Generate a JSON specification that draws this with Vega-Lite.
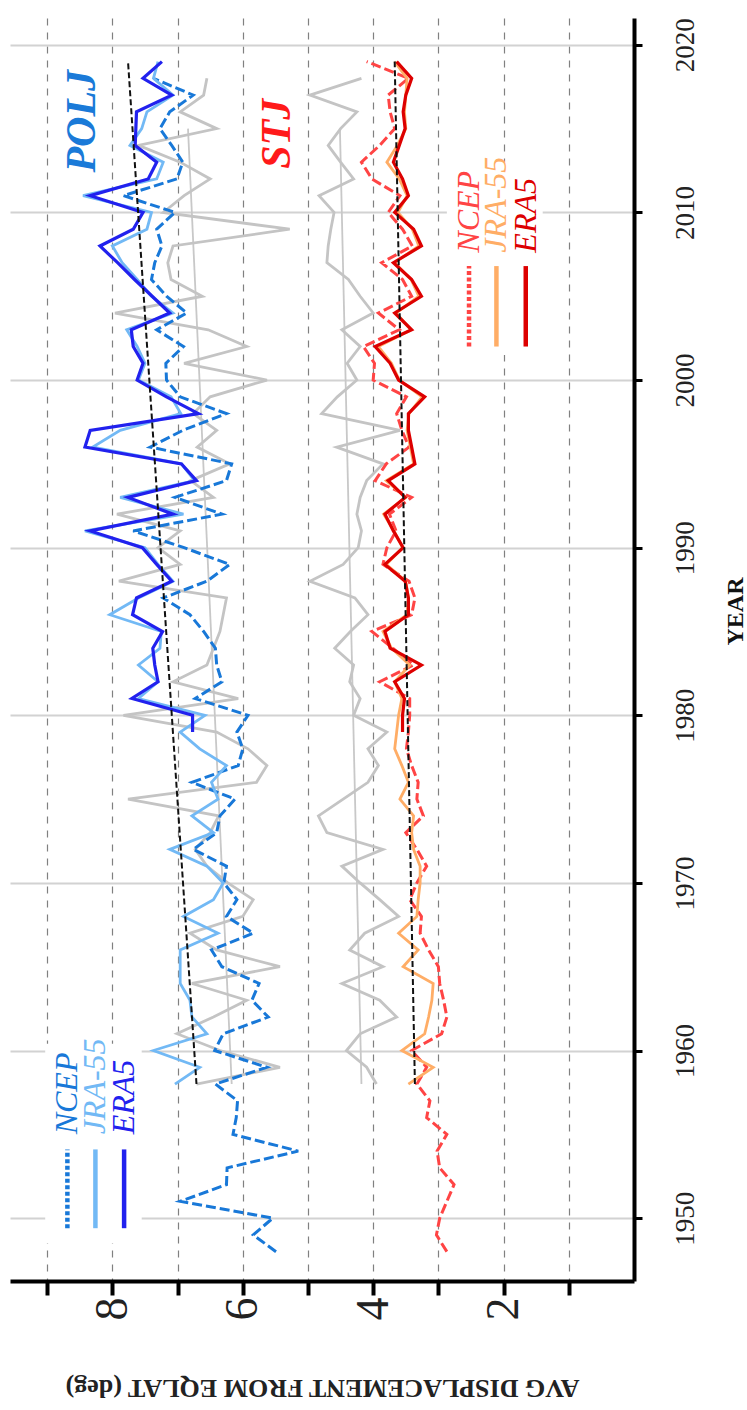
{
"$schema": "https://vega.github.io/schema/vega-lite/v6.json",
"width": 624,
"height": 1263,
"padding": {"left": 10, "top": 17, "right": 0, "bottom": 0},
"background": "white",
"config": {"view": {"stroke": null}, "font": "Liberation Serif"},
"datasets": {
"boxes": [
{"value": 9.03, "value2": 7.55, "year": 1948.5, "year2": 1960.4},
{"value": 2.87, "value2": 1.4, "year": 2001.5, "year2": 2013.0}
],
"legendlines": [
{"series": "POLJ NCEP", "value": 8.69, "year": 1949.4, "year2": 1954.1},
{"series": "POLJ JRA-55", "value": 8.26, "year": 1949.4, "year2": 1954.1},
{"series": "POLJ ERA5", "value": 7.82, "year": 1949.4, "year2": 1954.1},
{"series": "STJ NCEP", "value": 2.53, "year": 2002.0, "year2": 2006.8},
{"series": "STJ JRA-55", "value": 2.11, "year": 2002.0, "year2": 2006.8},
{"series": "STJ ERA5", "value": 1.66, "year": 2002.0, "year2": 2006.8}
],
"legendtext": [
{"series": "POLJ NCEP", "label": "NCEP", "value": 8.69, "year": 1955.0},
{"series": "POLJ JRA-55", "label": "JRA-55", "value": 8.26, "year": 1955.0},
{"series": "POLJ ERA5", "label": "ERA5", "value": 7.82, "year": 1955.0},
{"series": "STJ NCEP", "label": "NCEP", "value": 2.53, "year": 2007.6},
{"series": "STJ JRA-55", "label": "JRA-55", "value": 2.11, "year": 2007.6},
{"series": "STJ ERA5", "label": "ERA5", "value": 1.66, "year": 2007.6}
],
"labels": [
{"series": "POLJ label", "label": "POLJ", "value": 8.47, "year": 2015.44},
{"series": "STJ label", "label": "STJ", "value": 5.48, "year": 2014.69}
],
"lines": [
{"series":"POLJ NCEP","year":1948,"value":5.49},{"series":"POLJ NCEP","year":1949,"value":5.84},{"series":"POLJ NCEP","year":1950,"value":5.54},{"series":"POLJ NCEP","year":1951,"value":6.96},{"series":"POLJ NCEP","year":1952,"value":6.25},{"series":"POLJ NCEP","year":1953,"value":6.24},{"series":"POLJ NCEP","year":1954,"value":5.15},{"series":"POLJ NCEP","year":1955,"value":6.15},{"series":"POLJ NCEP","year":1956,"value":6.1},{"series":"POLJ NCEP","year":1957,"value":6.08},{"series":"POLJ NCEP","year":1958,"value":6.42},{"series":"POLJ NCEP","year":1959,"value":5.63},{"series":"POLJ NCEP","year":1960,"value":6.43},{"series":"POLJ NCEP","year":1961,"value":6.3},{"series":"POLJ NCEP","year":1962,"value":5.61},{"series":"POLJ NCEP","year":1963,"value":5.86},{"series":"POLJ NCEP","year":1964,"value":5.75},{"series":"POLJ NCEP","year":1965,"value":6.32},{"series":"POLJ NCEP","year":1966,"value":6.48},{"series":"POLJ NCEP","year":1967,"value":5.84},{"series":"POLJ NCEP","year":1968,"value":6.25},{"series":"POLJ NCEP","year":1969,"value":6.09},{"series":"POLJ NCEP","year":1970,"value":6.29},{"series":"POLJ NCEP","year":1971,"value":6.25},{"series":"POLJ NCEP","year":1972,"value":6.76},{"series":"POLJ NCEP","year":1973,"value":6.4},{"series":"POLJ NCEP","year":1974,"value":6.35},{"series":"POLJ NCEP","year":1975,"value":6.12},{"series":"POLJ NCEP","year":1976,"value":6.78},{"series":"POLJ NCEP","year":1977,"value":6.07},{"series":"POLJ NCEP","year":1978,"value":6.0},{"series":"POLJ NCEP","year":1979,"value":6.09},{"series":"POLJ NCEP","year":1980,"value":5.92},{"series":"POLJ NCEP","year":1981,"value":6.73},{"series":"POLJ NCEP","year":1982,"value":6.32},{"series":"POLJ NCEP","year":1983,"value":6.4},{"series":"POLJ NCEP","year":1984,"value":6.42},{"series":"POLJ NCEP","year":1985,"value":6.6},{"series":"POLJ NCEP","year":1986,"value":6.81},{"series":"POLJ NCEP","year":1987,"value":7.22},{"series":"POLJ NCEP","year":1988,"value":6.55},{"series":"POLJ NCEP","year":1989,"value":6.2},{"series":"POLJ NCEP","year":1990,"value":6.9},{"series":"POLJ NCEP","year":1991,"value":7.68},{"series":"POLJ NCEP","year":1992,"value":6.32},{"series":"POLJ NCEP","year":1993,"value":7.04},{"series":"POLJ NCEP","year":1994,"value":6.25},{"series":"POLJ NCEP","year":1995,"value":6.17},{"series":"POLJ NCEP","year":1996,"value":7.42},{"series":"POLJ NCEP","year":1997,"value":6.92},{"series":"POLJ NCEP","year":1998,"value":6.25},{"series":"POLJ NCEP","year":1999,"value":6.96},{"series":"POLJ NCEP","year":2000,"value":7.17},{"series":"POLJ NCEP","year":2001,"value":7.18},{"series":"POLJ NCEP","year":2002,"value":6.91},{"series":"POLJ NCEP","year":2003,"value":7.32},{"series":"POLJ NCEP","year":2004,"value":6.86},{"series":"POLJ NCEP","year":2005,"value":7.17},{"series":"POLJ NCEP","year":2006,"value":7.4},{"series":"POLJ NCEP","year":2007,"value":7.35},{"series":"POLJ NCEP","year":2008,"value":7.24},{"series":"POLJ NCEP","year":2009,"value":7.32},{"series":"POLJ NCEP","year":2010,"value":7.04},{"series":"POLJ NCEP","year":2011,"value":7.83},{"series":"POLJ NCEP","year":2012,"value":7.01},{"series":"POLJ NCEP","year":2013,"value":6.92},{"series":"POLJ NCEP","year":2014,"value":7.09},{"series":"POLJ NCEP","year":2015,"value":7.27},{"series":"POLJ NCEP","year":2016,"value":7.12},{"series":"POLJ NCEP","year":2017,"value":6.76},{"series":"POLJ NCEP","year":2018,"value":7.37},
{"series":"POLJ JRA-55","year":1958,"value":7.04},{"series":"POLJ JRA-55","year":1959,"value":6.66},{"series":"POLJ JRA-55","year":1960,"value":7.37},{"series":"POLJ JRA-55","year":1961,"value":6.55},{"series":"POLJ JRA-55","year":1962,"value":6.78},{"series":"POLJ JRA-55","year":1963,"value":6.81},{"series":"POLJ JRA-55","year":1964,"value":6.96},{"series":"POLJ JRA-55","year":1965,"value":6.96},{"series":"POLJ JRA-55","year":1966,"value":6.96},{"series":"POLJ JRA-55","year":1967,"value":6.38},{"series":"POLJ JRA-55","year":1968,"value":6.91},{"series":"POLJ JRA-55","year":1969,"value":6.45},{"series":"POLJ JRA-55","year":1970,"value":6.3},{"series":"POLJ JRA-55","year":1971,"value":6.55},{"series":"POLJ JRA-55","year":1972,"value":7.12},{"series":"POLJ JRA-55","year":1973,"value":6.45},{"series":"POLJ JRA-55","year":1974,"value":6.78},{"series":"POLJ JRA-55","year":1975,"value":6.38},{"series":"POLJ JRA-55","year":1976,"value":6.48},{"series":"POLJ JRA-55","year":1977,"value":6.25},{"series":"POLJ JRA-55","year":1978,"value":6.66},{"series":"POLJ JRA-55","year":1979,"value":6.96},{"series":"POLJ JRA-55","year":1980,"value":6.58},{"series":"POLJ JRA-55","year":1981,"value":7.6},{"series":"POLJ JRA-55","year":1982,"value":7.3},{"series":"POLJ JRA-55","year":1983,"value":7.6},{"series":"POLJ JRA-55","year":1984,"value":7.27},{"series":"POLJ JRA-55","year":1985,"value":7.25},{"series":"POLJ JRA-55","year":1986,"value":8.04},{"series":"POLJ JRA-55","year":1987,"value":7.6},{"series":"POLJ JRA-55","year":1988,"value":7.07},{"series":"POLJ JRA-55","year":1989,"value":7.3},{"series":"POLJ JRA-55","year":1990,"value":7.5},{"series":"POLJ JRA-55","year":1991,"value":8.42},{"series":"POLJ JRA-55","year":1992,"value":6.91},{"series":"POLJ JRA-55","year":1993,"value":7.88},{"series":"POLJ JRA-55","year":1994,"value":6.74},{"series":"POLJ JRA-55","year":1995,"value":6.94},{"series":"POLJ JRA-55","year":1996,"value":8.3},{"series":"POLJ JRA-55","year":1997,"value":7.88},{"series":"POLJ JRA-55","year":1998,"value":6.95},{"series":"POLJ JRA-55","year":1999,"value":7.1},{"series":"POLJ JRA-55","year":2000,"value":7.6},{"series":"POLJ JRA-55","year":2001,"value":7.5},{"series":"POLJ JRA-55","year":2002,"value":7.62},{"series":"POLJ JRA-55","year":2003,"value":7.78},{"series":"POLJ JRA-55","year":2004,"value":7.07},{"series":"POLJ JRA-55","year":2005,"value":7.4},{"series":"POLJ JRA-55","year":2006,"value":7.62},{"series":"POLJ JRA-55","year":2007,"value":7.85},{"series":"POLJ JRA-55","year":2008,"value":8.0},{"series":"POLJ JRA-55","year":2009,"value":7.47},{"series":"POLJ JRA-55","year":2010,"value":7.4},{"series":"POLJ JRA-55","year":2011,"value":8.45},{"series":"POLJ JRA-55","year":2012,"value":7.32},{"series":"POLJ JRA-55","year":2013,"value":7.22},{"series":"POLJ JRA-55","year":2014,"value":7.73},{"series":"POLJ JRA-55","year":2015,"value":7.55},{"series":"POLJ JRA-55","year":2016,"value":7.47},{"series":"POLJ JRA-55","year":2017,"value":7.07},{"series":"POLJ JRA-55","year":2018,"value":7.37},{"series":"POLJ JRA-55","year":2019,"value":7.3},
{"series":"POLJ ERA5","year":1979,"value":6.77},{"series":"POLJ ERA5","year":1980,"value":6.77},{"series":"POLJ ERA5","year":1981,"value":7.7},{"series":"POLJ ERA5","year":1982,"value":7.3},{"series":"POLJ ERA5","year":1983,"value":7.35},{"series":"POLJ ERA5","year":1984,"value":7.38},{"series":"POLJ ERA5","year":1985,"value":7.23},{"series":"POLJ ERA5","year":1986,"value":7.69},{"series":"POLJ ERA5","year":1987,"value":7.63},{"series":"POLJ ERA5","year":1988,"value":7.09},{"series":"POLJ ERA5","year":1989,"value":7.32},{"series":"POLJ ERA5","year":1990,"value":7.54},{"series":"POLJ ERA5","year":1991,"value":8.34},{"series":"POLJ ERA5","year":1992,"value":7.07},{"series":"POLJ ERA5","year":1993,"value":7.76},{"series":"POLJ ERA5","year":1994,"value":6.71},{"series":"POLJ ERA5","year":1995,"value":6.94},{"series":"POLJ ERA5","year":1996,"value":8.42},{"series":"POLJ ERA5","year":1997,"value":8.34},{"series":"POLJ ERA5","year":1998,"value":6.68},{"series":"POLJ ERA5","year":1999,"value":7.17},{"series":"POLJ ERA5","year":2000,"value":7.62},{"series":"POLJ ERA5","year":2001,"value":7.53},{"series":"POLJ ERA5","year":2002,"value":7.68},{"series":"POLJ ERA5","year":2003,"value":7.71},{"series":"POLJ ERA5","year":2004,"value":7.12},{"series":"POLJ ERA5","year":2005,"value":7.39},{"series":"POLJ ERA5","year":2006,"value":7.66},{"series":"POLJ ERA5","year":2007,"value":7.92},{"series":"POLJ ERA5","year":2008,"value":8.19},{"series":"POLJ ERA5","year":2009,"value":7.68},{"series":"POLJ ERA5","year":2010,"value":7.53},{"series":"POLJ ERA5","year":2011,"value":8.34},{"series":"POLJ ERA5","year":2012,"value":7.45},{"series":"POLJ ERA5","year":2013,"value":7.32},{"series":"POLJ ERA5","year":2014,"value":7.65},{"series":"POLJ ERA5","year":2015,"value":7.64},{"series":"POLJ ERA5","year":2016,"value":7.63},{"series":"POLJ ERA5","year":2017,"value":7.09},{"series":"POLJ ERA5","year":2018,"value":7.53},{"series":"POLJ ERA5","year":2019,"value":7.24},
{"series":"POLJ gray","year":1958,"value":6.71},{"series":"POLJ gray","year":1959,"value":5.43},{"series":"POLJ gray","year":1960,"value":6.35},{"series":"POLJ gray","year":1961,"value":7.01},{"series":"POLJ gray","year":1962,"value":6.45},{"series":"POLJ gray","year":1963,"value":5.94},{"series":"POLJ gray","year":1964,"value":6.78},{"series":"POLJ gray","year":1965,"value":5.43},{"series":"POLJ gray","year":1966,"value":6.4},{"series":"POLJ gray","year":1967,"value":6.81},{"series":"POLJ gray","year":1968,"value":6.0},{"series":"POLJ gray","year":1969,"value":5.84},{"series":"POLJ gray","year":1970,"value":6.23},{"series":"POLJ gray","year":1971,"value":6.55},{"series":"POLJ gray","year":1972,"value":6.73},{"series":"POLJ gray","year":1973,"value":6.5},{"series":"POLJ gray","year":1974,"value":6.37},{"series":"POLJ gray","year":1975,"value":7.76},{"series":"POLJ gray","year":1976,"value":5.79},{"series":"POLJ gray","year":1977,"value":5.63},{"series":"POLJ gray","year":1978,"value":5.92},{"series":"POLJ gray","year":1979,"value":6.4},{"series":"POLJ gray","year":1980,"value":7.83},{"series":"POLJ gray","year":1981,"value":6.07},{"series":"POLJ gray","year":1982,"value":7.07},{"series":"POLJ gray","year":1983,"value":6.55},{"series":"POLJ gray","year":1984,"value":6.45},{"series":"POLJ gray","year":1985,"value":6.35},{"series":"POLJ gray","year":1986,"value":6.3},{"series":"POLJ gray","year":1987,"value":6.25},{"series":"POLJ gray","year":1988,"value":7.9},{"series":"POLJ gray","year":1989,"value":6.96},{"series":"POLJ gray","year":1990,"value":7.3},{"series":"POLJ gray","year":1991,"value":6.96},{"series":"POLJ gray","year":1992,"value":7.93},{"series":"POLJ gray","year":1993,"value":6.45},{"series":"POLJ gray","year":1994,"value":6.8},{"series":"POLJ gray","year":1995,"value":6.2},{"series":"POLJ gray","year":1996,"value":6.7},{"series":"POLJ gray","year":1997,"value":6.4},{"series":"POLJ gray","year":1998,"value":6.76},{"series":"POLJ gray","year":1999,"value":6.5},{"series":"POLJ gray","year":2000,"value":5.63},{"series":"POLJ gray","year":2001,"value":6.9},{"series":"POLJ gray","year":2002,"value":5.94},{"series":"POLJ gray","year":2003,"value":6.53},{"series":"POLJ gray","year":2004,"value":7.96},{"series":"POLJ gray","year":2005,"value":6.62},{"series":"POLJ gray","year":2006,"value":7.1},{"series":"POLJ gray","year":2007,"value":7.15},{"series":"POLJ gray","year":2008,"value":7.07},{"series":"POLJ gray","year":2009,"value":5.28},{"series":"POLJ gray","year":2010,"value":7.22},{"series":"POLJ gray","year":2011,"value":6.9},{"series":"POLJ gray","year":2012,"value":6.5},{"series":"POLJ gray","year":2013,"value":6.96},{"series":"POLJ gray","year":2014,"value":7.6},{"series":"POLJ gray","year":2015,"value":6.4},{"series":"POLJ gray","year":2016,"value":6.96},{"series":"POLJ gray","year":2017,"value":6.6},{"series":"POLJ gray","year":2018,"value":6.55},
{"series":"STJ NCEP","year":1948,"value":2.87},{"series":"STJ NCEP","year":1949,"value":3.03},{"series":"STJ NCEP","year":1950,"value":2.98},{"series":"STJ NCEP","year":1951,"value":2.87},{"series":"STJ NCEP","year":1952,"value":2.76},{"series":"STJ NCEP","year":1953,"value":2.98},{"series":"STJ NCEP","year":1954,"value":3.02},{"series":"STJ NCEP","year":1955,"value":2.87},{"series":"STJ NCEP","year":1956,"value":3.18},{"series":"STJ NCEP","year":1957,"value":3.13},{"series":"STJ NCEP","year":1958,"value":3.33},{"series":"STJ NCEP","year":1959,"value":3.18},{"series":"STJ NCEP","year":1960,"value":3.41},{"series":"STJ NCEP","year":1961,"value":2.95},{"series":"STJ NCEP","year":1962,"value":2.87},{"series":"STJ NCEP","year":1963,"value":2.92},{"series":"STJ NCEP","year":1964,"value":2.98},{"series":"STJ NCEP","year":1965,"value":3.0},{"series":"STJ NCEP","year":1966,"value":3.15},{"series":"STJ NCEP","year":1967,"value":3.28},{"series":"STJ NCEP","year":1968,"value":3.26},{"series":"STJ NCEP","year":1969,"value":3.44},{"series":"STJ NCEP","year":1970,"value":3.33},{"series":"STJ NCEP","year":1971,"value":3.18},{"series":"STJ NCEP","year":1972,"value":3.33},{"series":"STJ NCEP","year":1973,"value":3.5},{"series":"STJ NCEP","year":1974,"value":3.23},{"series":"STJ NCEP","year":1975,"value":3.33},{"series":"STJ NCEP","year":1976,"value":3.31},{"series":"STJ NCEP","year":1977,"value":3.41},{"series":"STJ NCEP","year":1978,"value":3.49},{"series":"STJ NCEP","year":1979,"value":3.46},{"series":"STJ NCEP","year":1980,"value":3.44},{"series":"STJ NCEP","year":1981,"value":3.44},{"series":"STJ NCEP","year":1982,"value":3.9},{"series":"STJ NCEP","year":1983,"value":3.38},{"series":"STJ NCEP","year":1984,"value":3.7},{"series":"STJ NCEP","year":1985,"value":4.02},{"series":"STJ NCEP","year":1986,"value":3.41},{"series":"STJ NCEP","year":1987,"value":3.36},{"series":"STJ NCEP","year":1988,"value":3.45},{"series":"STJ NCEP","year":1989,"value":3.85},{"series":"STJ NCEP","year":1990,"value":3.79},{"series":"STJ NCEP","year":1991,"value":3.65},{"series":"STJ NCEP","year":1992,"value":3.75},{"series":"STJ NCEP","year":1993,"value":3.41},{"series":"STJ NCEP","year":1994,"value":3.97},{"series":"STJ NCEP","year":1995,"value":3.8},{"series":"STJ NCEP","year":1996,"value":3.45},{"series":"STJ NCEP","year":1997,"value":3.56},{"series":"STJ NCEP","year":1998,"value":3.64},{"series":"STJ NCEP","year":1999,"value":3.49},{"series":"STJ NCEP","year":2000,"value":4.0},{"series":"STJ NCEP","year":2001,"value":3.98},{"series":"STJ NCEP","year":2002,"value":4.15},{"series":"STJ NCEP","year":2003,"value":3.6},{"series":"STJ NCEP","year":2004,"value":3.92},{"series":"STJ NCEP","year":2005,"value":3.41},{"series":"STJ NCEP","year":2006,"value":3.55},{"series":"STJ NCEP","year":2007,"value":3.87},{"series":"STJ NCEP","year":2008,"value":3.4},{"series":"STJ NCEP","year":2009,"value":3.55},{"series":"STJ NCEP","year":2010,"value":3.77},{"series":"STJ NCEP","year":2011,"value":3.59},{"series":"STJ NCEP","year":2012,"value":4.02},{"series":"STJ NCEP","year":2013,"value":4.18},{"series":"STJ NCEP","year":2014,"value":3.9},{"series":"STJ NCEP","year":2015,"value":3.67},{"series":"STJ NCEP","year":2016,"value":3.74},{"series":"STJ NCEP","year":2017,"value":3.77},{"series":"STJ NCEP","year":2018,"value":3.46},{"series":"STJ NCEP","year":2019,"value":4.1},
{"series":"STJ JRA-55","year":1958,"value":3.46},{"series":"STJ JRA-55","year":1959,"value":3.08},{"series":"STJ JRA-55","year":1960,"value":3.56},{"series":"STJ JRA-55","year":1961,"value":3.21},{"series":"STJ JRA-55","year":1962,"value":3.15},{"series":"STJ JRA-55","year":1963,"value":3.1},{"series":"STJ JRA-55","year":1964,"value":3.08},{"series":"STJ JRA-55","year":1965,"value":3.54},{"series":"STJ JRA-55","year":1966,"value":3.31},{"series":"STJ JRA-55","year":1967,"value":3.61},{"series":"STJ JRA-55","year":1968,"value":3.33},{"series":"STJ JRA-55","year":1969,"value":3.31},{"series":"STJ JRA-55","year":1970,"value":3.28},{"series":"STJ JRA-55","year":1971,"value":3.28},{"series":"STJ JRA-55","year":1972,"value":3.38},{"series":"STJ JRA-55","year":1973,"value":3.41},{"series":"STJ JRA-55","year":1974,"value":3.38},{"series":"STJ JRA-55","year":1975,"value":3.59},{"series":"STJ JRA-55","year":1976,"value":3.46},{"series":"STJ JRA-55","year":1977,"value":3.56},{"series":"STJ JRA-55","year":1978,"value":3.67},{"series":"STJ JRA-55","year":1979,"value":3.64},{"series":"STJ JRA-55","year":1980,"value":3.61},{"series":"STJ JRA-55","year":1981,"value":3.56},{"series":"STJ JRA-55","year":1982,"value":3.67},{"series":"STJ JRA-55","year":1983,"value":3.44},{"series":"STJ JRA-55","year":1984,"value":3.72},{"series":"STJ JRA-55","year":1985,"value":3.85},{"series":"STJ JRA-55","year":1986,"value":3.48},{"series":"STJ JRA-55","year":1987,"value":3.46},{"series":"STJ JRA-55","year":1988,"value":3.5},{"series":"STJ JRA-55","year":1989,"value":3.8},{"series":"STJ JRA-55","year":1990,"value":3.55},{"series":"STJ JRA-55","year":1991,"value":3.68},{"series":"STJ JRA-55","year":1992,"value":3.84},{"series":"STJ JRA-55","year":1993,"value":3.5},{"series":"STJ JRA-55","year":1994,"value":3.8},{"series":"STJ JRA-55","year":1995,"value":3.38},{"series":"STJ JRA-55","year":1996,"value":3.43},{"series":"STJ JRA-55","year":1997,"value":3.48},{"series":"STJ JRA-55","year":1998,"value":3.45},{"series":"STJ JRA-55","year":1999,"value":3.25},{"series":"STJ JRA-55","year":2000,"value":3.6},{"series":"STJ JRA-55","year":2001,"value":3.72},{"series":"STJ JRA-55","year":2002,"value":3.92},{"series":"STJ JRA-55","year":2003,"value":3.42},{"series":"STJ JRA-55","year":2004,"value":3.65},{"series":"STJ JRA-55","year":2005,"value":3.3},{"series":"STJ JRA-55","year":2006,"value":3.42},{"series":"STJ JRA-55","year":2007,"value":3.67},{"series":"STJ JRA-55","year":2008,"value":3.3},{"series":"STJ JRA-55","year":2009,"value":3.4},{"series":"STJ JRA-55","year":2010,"value":3.62},{"series":"STJ JRA-55","year":2011,"value":3.48},{"series":"STJ JRA-55","year":2012,"value":3.6},{"series":"STJ JRA-55","year":2013,"value":3.79},{"series":"STJ JRA-55","year":2014,"value":3.63},{"series":"STJ JRA-55","year":2015,"value":3.5},{"series":"STJ JRA-55","year":2016,"value":3.52},{"series":"STJ JRA-55","year":2017,"value":3.5},{"series":"STJ JRA-55","year":2018,"value":3.48},{"series":"STJ JRA-55","year":2019,"value":3.67},
{"series":"STJ ERA5","year":1979,"value":3.55},{"series":"STJ ERA5","year":1980,"value":3.55},{"series":"STJ ERA5","year":1981,"value":3.52},{"series":"STJ ERA5","year":1982,"value":3.67},{"series":"STJ ERA5","year":1983,"value":3.26},{"series":"STJ ERA5","year":1984,"value":3.74},{"series":"STJ ERA5","year":1985,"value":3.82},{"series":"STJ ERA5","year":1986,"value":3.46},{"series":"STJ ERA5","year":1987,"value":3.46},{"series":"STJ ERA5","year":1988,"value":3.51},{"series":"STJ ERA5","year":1989,"value":3.82},{"series":"STJ ERA5","year":1990,"value":3.54},{"series":"STJ ERA5","year":1991,"value":3.69},{"series":"STJ ERA5","year":1992,"value":3.82},{"series":"STJ ERA5","year":1993,"value":3.51},{"series":"STJ ERA5","year":1994,"value":3.77},{"series":"STJ ERA5","year":1995,"value":3.36},{"series":"STJ ERA5","year":1996,"value":3.41},{"series":"STJ ERA5","year":1997,"value":3.46},{"series":"STJ ERA5","year":1998,"value":3.46},{"series":"STJ ERA5","year":1999,"value":3.21},{"series":"STJ ERA5","year":2000,"value":3.61},{"series":"STJ ERA5","year":2001,"value":3.74},{"series":"STJ ERA5","year":2002,"value":3.97},{"series":"STJ ERA5","year":2003,"value":3.41},{"series":"STJ ERA5","year":2004,"value":3.67},{"series":"STJ ERA5","year":2005,"value":3.26},{"series":"STJ ERA5","year":2006,"value":3.41},{"series":"STJ ERA5","year":2007,"value":3.69},{"series":"STJ ERA5","year":2008,"value":3.26},{"series":"STJ ERA5","year":2009,"value":3.38},{"series":"STJ ERA5","year":2010,"value":3.67},{"series":"STJ ERA5","year":2011,"value":3.46},{"series":"STJ ERA5","year":2012,"value":3.55},{"series":"STJ ERA5","year":2013,"value":3.69},{"series":"STJ ERA5","year":2014,"value":3.6},{"series":"STJ ERA5","year":2015,"value":3.51},{"series":"STJ ERA5","year":2016,"value":3.54},{"series":"STJ ERA5","year":2017,"value":3.5},{"series":"STJ ERA5","year":2018,"value":3.41},{"series":"STJ ERA5","year":2019,"value":3.64},
{"series":"STJ gray","year":1958,"value":3.95},{"series":"STJ gray","year":1959,"value":4.1},{"series":"STJ gray","year":1960,"value":4.41},{"series":"STJ gray","year":1961,"value":4.2},{"series":"STJ gray","year":1962,"value":3.64},{"series":"STJ gray","year":1963,"value":3.9},{"series":"STJ gray","year":1964,"value":4.48},{"series":"STJ gray","year":1965,"value":3.85},{"series":"STJ gray","year":1966,"value":4.36},{"series":"STJ gray","year":1967,"value":4.13},{"series":"STJ gray","year":1968,"value":3.61},{"series":"STJ gray","year":1969,"value":3.9},{"series":"STJ gray","year":1970,"value":4.2},{"series":"STJ gray","year":1971,"value":4.48},{"series":"STJ gray","year":1972,"value":3.85},{"series":"STJ gray","year":1973,"value":4.71},{"series":"STJ gray","year":1974,"value":4.84},{"series":"STJ gray","year":1975,"value":4.46},{"series":"STJ gray","year":1976,"value":4.08},{"series":"STJ gray","year":1977,"value":3.92},{"series":"STJ gray","year":1978,"value":4.08},{"series":"STJ gray","year":1979,"value":3.79},{"series":"STJ gray","year":1980,"value":4.3},{"series":"STJ gray","year":1981,"value":4.2},{"series":"STJ gray","year":1982,"value":4.36},{"series":"STJ gray","year":1983,"value":4.3},{"series":"STJ gray","year":1984,"value":4.59},{"series":"STJ gray","year":1985,"value":4.35},{"series":"STJ gray","year":1986,"value":4.08},{"series":"STJ gray","year":1987,"value":4.28},{"series":"STJ gray","year":1988,"value":4.97},{"series":"STJ gray","year":1989,"value":4.46},{"series":"STJ gray","year":1990,"value":4.23},{"series":"STJ gray","year":1991,"value":4.18},{"series":"STJ gray","year":1992,"value":4.25},{"series":"STJ gray","year":1993,"value":4.2},{"series":"STJ gray","year":1994,"value":4.1},{"series":"STJ gray","year":1995,"value":3.85},{"series":"STJ gray","year":1996,"value":4.56},{"series":"STJ gray","year":1997,"value":3.59},{"series":"STJ gray","year":1998,"value":4.79},{"series":"STJ gray","year":1999,"value":4.55},{"series":"STJ gray","year":2000,"value":4.25},{"series":"STJ gray","year":2001,"value":4.4},{"series":"STJ gray","year":2002,"value":4.2},{"series":"STJ gray","year":2003,"value":4.48},{"series":"STJ gray","year":2004,"value":4.0},{"series":"STJ gray","year":2005,"value":4.2},{"series":"STJ gray","year":2006,"value":4.38},{"series":"STJ gray","year":2007,"value":4.71},{"series":"STJ gray","year":2008,"value":4.69},{"series":"STJ gray","year":2009,"value":4.65},{"series":"STJ gray","year":2010,"value":4.6},{"series":"STJ gray","year":2011,"value":4.83},{"series":"STJ gray","year":2012,"value":4.3},{"series":"STJ gray","year":2013,"value":4.5},{"series":"STJ gray","year":2014,"value":4.69},{"series":"STJ gray","year":2015,"value":4.5},{"series":"STJ gray","year":2016,"value":4.25},{"series":"STJ gray","year":2017,"value":4.97},{"series":"STJ gray","year":2018,"value":4.18},
{"series":"POLJ gray trend","year":1958,"value":6.17},{"series":"POLJ gray trend","year":2015,"value":6.84},
{"series":"STJ gray trend","year":1958,"value":4.18},{"series":"STJ gray trend","year":2015,"value":4.51},
{"series":"POLJ trend","year":1958,"value":6.71},{"series":"POLJ trend","year":2019,"value":7.76},
{"series":"STJ trend","year":1958,"value":3.36},{"series":"STJ trend","year":2019,"value":3.67}
]
},
"encoding": {
"x": {"field": "value", "type": "quantitative",
 "scale": {"domain": [0, 9.57], "reverse": true, "nice": false, "zero": false},
 "axis": {"orient": "bottom", "values": [1,2,3,4,5,6,7,8,9],
  "labelExpr": "datum.value % 2 === 0 ? datum.label : ''",
  "grid": true, "gridDash": [7,7], "gridColor": "#808080", "gridWidth": 1.2,
  "domainColor": "#000000", "domainWidth": 4, "tickColor": "#000000", "tickWidth": 4, "tickSize": 14,
  "labelAngle": 270, "labelFont": "Liberation Serif", "labelFontSize": 46, "labelColor": "#222222", "labelPadding": 2,
  "title": "AVG DISPLACEMENT FROM EQLAT (deg)", "titleAngle": 180, "titleFont": "Liberation Serif",
  "titleFontWeight": "bold", "titleFontSize": 26, "titleColor": "#222222",
  "titleY": 106, "titleBaseline": "middle", "titleAlign": "center"}},
"y": {"field": "year", "type": "quantitative",
 "scale": {"domain": [1946.25, 2021.6], "nice": false, "zero": false},
 "axis": {"orient": "right", "values": [1950,1960,1970,1980,1990,2000,2010,2020], "format": "d",
  "grid": true, "gridColor": "#d2d2d2", "gridWidth": 2,
  "domainColor": "#000000", "domainWidth": 4, "tickColor": "#000000", "tickWidth": 3, "tickSize": 8,
  "labelAngle": 270, "labelAlign": "center", "labelBaseline": "top", "labelFont": "Liberation Serif",
  "labelFontSize": 27, "labelColor": "#222222", "labelPadding": 30,
  "title": "YEAR", "titleAngle": 270, "titleX": 101, "titleY": 593, "titleAlign": "center", "titleBaseline": "middle",
  "titleFont": "Liberation Serif", "titleFontWeight": "bold", "titleFontSize": 24, "titleColor": "#111111"}},
"color": {"field": "series", "type": "nominal", "legend": null,
 "scale": {"domain": ["POLJ NCEP","POLJ JRA-55","POLJ ERA5","POLJ gray","POLJ gray trend","POLJ trend","STJ NCEP","STJ JRA-55","STJ ERA5","STJ gray","STJ gray trend","STJ trend","POLJ label","STJ label"],
  "range": ["#1878d8","#72b9f5","#2121ee","#c4c4c4","#c8c8c8","#111111","#ff4444","#ffad66","#dd0000","#c4c4c4","#c8c8c8","#111111","#1a7ad8","#ff1a1a"]}}
},
"layer": [
{"data": {"name": "boxes"}, "mark": {"type": "rect"},
 "encoding": {"x2": {"field": "value2"}, "y2": {"field": "year2"}, "color": {"value": "white"}}},
{"data": {"name": "lines"}, "transform": [{"filter": {"field": "series", "oneOf": ["POLJ gray trend","STJ gray trend"]}}],
 "mark": {"type": "line", "strokeWidth": 1.8}, "encoding": {"order": {"field": "year"}, "detail": {"field": "series"}}},
{"data": {"name": "lines"}, "transform": [{"filter": {"field": "series", "oneOf": ["POLJ gray","STJ gray"]}}],
 "mark": {"type": "line", "strokeWidth": 2.8}, "encoding": {"order": {"field": "year"}, "detail": {"field": "series"}}},
{"data": {"name": "lines"}, "transform": [{"filter": {"field": "series", "oneOf": ["POLJ NCEP","STJ NCEP"]}}],
 "mark": {"type": "line", "strokeWidth": 3, "strokeDash": [10,4]}, "encoding": {"order": {"field": "year"}, "detail": {"field": "series"}}},
{"data": {"name": "lines"}, "transform": [{"filter": {"field": "series", "oneOf": ["POLJ JRA-55","STJ JRA-55"]}}],
 "mark": {"type": "line", "strokeWidth": 2.8}, "encoding": {"order": {"field": "year"}, "detail": {"field": "series"}}},
{"data": {"name": "lines"}, "transform": [{"filter": {"field": "series", "oneOf": ["POLJ ERA5","STJ ERA5"]}}],
 "mark": {"type": "line", "strokeWidth": 3.2}, "encoding": {"order": {"field": "year"}, "detail": {"field": "series"}}},
{"data": {"name": "lines"}, "transform": [{"filter": {"field": "series", "oneOf": ["POLJ trend","STJ trend"]}}],
 "mark": {"type": "line", "strokeWidth": 2, "strokeDash": [6,3]}, "encoding": {"order": {"field": "year"}, "detail": {"field": "series"}}},
{"data": {"name": "legendlines"}, "transform": [{"filter": {"field": "series", "oneOf": ["POLJ NCEP","STJ NCEP"]}}],
 "mark": {"type": "rule", "strokeWidth": 4.5, "strokeDash": [4,2.5]}, "encoding": {"y2": {"field": "year2"}}},
{"data": {"name": "legendlines"}, "transform": [{"filter": {"field": "series", "oneOf": ["POLJ JRA-55","STJ JRA-55","POLJ ERA5","STJ ERA5"]}}],
 "mark": {"type": "rule", "strokeWidth": 4.5}, "encoding": {"y2": {"field": "year2"}}},
{"data": {"name": "legendtext"},
 "mark": {"type": "text", "angle": 270, "align": "left", "baseline": "middle", "font": "Liberation Serif", "fontStyle": "italic", "fontSize": 32},
 "encoding": {"text": {"field": "label"}}},
{"data": {"name": "labels"},
 "mark": {"type": "text", "angle": 270, "align": "center", "baseline": "middle", "font": "Liberation Serif", "fontStyle": "italic", "fontWeight": "bold", "fontSize": 42},
 "encoding": {"text": {"field": "label"}}}
]
}
